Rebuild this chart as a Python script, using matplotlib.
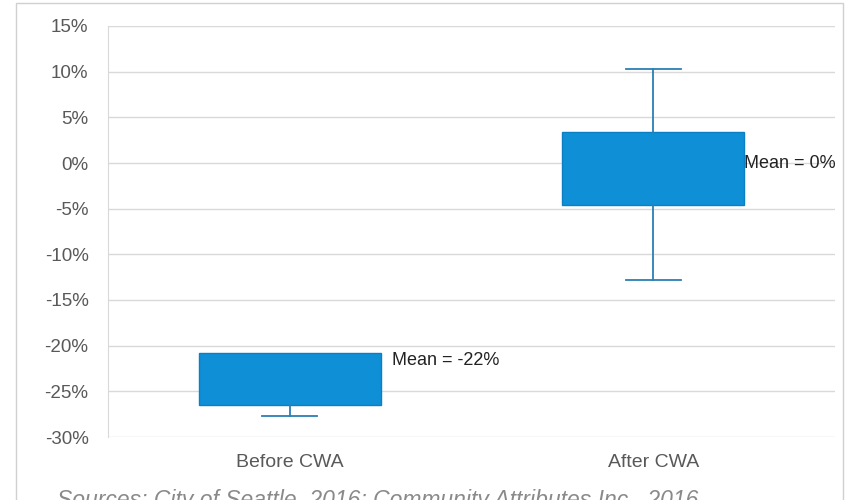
import matplotlib.pyplot as plt
from matplotlib.ticker import PercentFormatter
from matplotlib.patches import Rectangle

categories = ["Before CWA", "After CWA"]
q1 = [-0.265, -0.046]
q3 = [-0.208, 0.034]
whisker_low = [-0.277, -0.128]
whisker_high = [-0.208, 0.103]
means = [-0.22, 0.0]
mean_labels = ["Mean = -22%", "Mean = 0%"]
yticks = [-0.30, -0.25, -0.20, -0.15, -0.10, -0.05, 0.0, 0.05, 0.10, 0.15]

plt.rcParams['font.family'] = ['Liberation Sans', 'DejaVu Sans']
plt.rcParams['axes.unicode_minus'] = False

fig = plt.figure(figsize=(8.51, 5.0), dpi=100)
ax = fig.add_axes([108 / 851, 0.126, 727 / 851, 0.822])

# box stats for bxp, no median line shown
stats = []
for i in range(len(categories)):
    stats.append({
        'q1': q1[i], 'q3': q3[i], 'med': q1[i],
        'whislo': whisker_low[i], 'whishi': whisker_high[i],
        'fliers': [], 'label': categories[i],
    })

box_color = '#0f8fd6'
parts = ax.bxp(stats, positions=[0, 1], widths=0.5, patch_artist=True, showfliers=False,
               boxprops=dict(facecolor=box_color, edgecolor='#0a7fc4', linewidth=1),
               whiskerprops=dict(color='#2b80b5', linewidth=1.3),
               capprops=dict(color='#2b80b5', linewidth=1.3),
               capwidths=[0.15, 0.15],
               medianprops=dict(linewidth=0))
# before box has no upper whisker
parts['caps'][1].set_visible(False)

ax.set_xlim(-0.5, 1.5)
ax.set_ylim(-0.30, 0.15)
ax.set_yticks(yticks)
ax.yaxis.set_major_formatter(PercentFormatter(1.0, decimals=0))
ax.grid(axis='y', color='#d9d9d9', linewidth=1)
ax.set_axisbelow(True)
ax.tick_params(axis='y', length=0, labelsize=13.5, colors='#595959', pad=14)
ax.tick_params(axis='x', length=0, labelsize=14, colors='#595959', pad=12)
for s in ['top', 'right', 'bottom']:
    ax.spines[s].set_visible(False)
ax.spines['left'].set_color('#d9d9d9')

# mean labels next to the boxes
ax.text(0.28, q3[0] + 0.001, mean_labels[0], ha='left', va='top', fontsize=13, color='#222222')
ax.text(1.25, means[1], mean_labels[1], ha='left', va='center', fontsize=13, color='#222222')

# outer frame
fig.patches.append(Rectangle((16 / 851, -0.05), 827 / 851, 1.044, transform=fig.transFigure,
                             fill=False, edgecolor='#d0d0d0', linewidth=1))

# source line, cut by the bottom edge as in the original
fig.text(57 / 851, 0.021, "Sources: City of Seattle, 2016; Community Attributes Inc., 2016",
         fontsize=16.5, style='italic', color='#8a8a8a', ha='left', va='top')

fig.savefig('out.png', dpi=100)
